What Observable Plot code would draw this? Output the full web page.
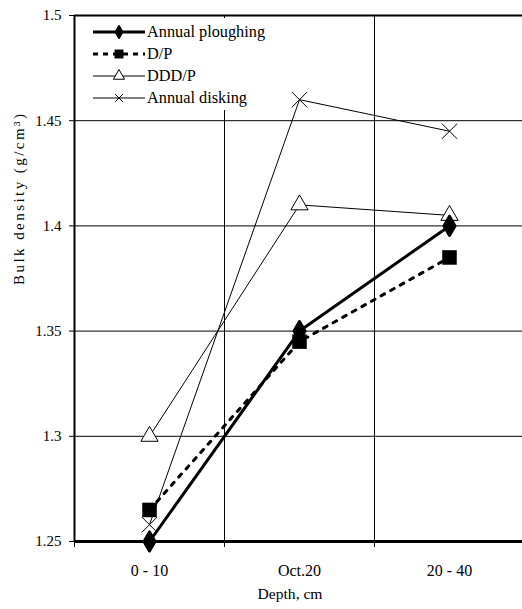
<!DOCTYPE html>
<html>
<head>
<meta charset="utf-8">
<script src="https://cdn.jsdelivr.net/npm/d3@7"></script>
<script src="https://cdn.jsdelivr.net/npm/@observablehq/plot@0.6"></script>
<style>
  html, body { margin: 0; padding: 0; background: #fff; }
  #chart { width: 522px; height: 609px; }
  #chart svg, #chart svg text { font-family: "Liberation Serif", "DejaVu Serif", serif !important; }
</style>
</head>
<body>
<div id="chart"></div>
<script>
// ---- data ----
const depths = ["0 - 10", "Oct.20", "20 - 40"];
const seriesNames = ["Annual ploughing", "D/P", "DDD/P", "Annual disking"];
const ploughing = [1.25, 1.35, 1.40];
const dp = [1.265, 1.345, 1.385];
const ddd = [1.30, 1.41, 1.405];
const disking = [1.258, 1.46, 1.445];
const yTicks = [1.25, 1.3, 1.35, 1.4, 1.45, 1.5];
const yLabel = "Bulk density (g/cm³)";
const xLabel = "Depth, cm";

const toRows = (vals, s) => vals.map((v, i) => ({ series: s, i, v }));
const rowsP = toRows(ploughing, seriesNames[0]);
const rowsDP = toRows(dp, seriesNames[1]);
const rowsDDD = toRows(ddd, seriesNames[2]);
const rowsDisk = toRows(disking, seriesNames[3]);

const font = "Liberation Serif, DejaVu Serif, serif";
const yMin = yTicks[0], yMax = yTicks[yTicks.length - 1];
const boundaries = depths.slice(1).map((d, i) => i + 0.5);

const chart = Plot.plot({
  width: 522,
  height: 609,
  marginTop: 15,
  marginBottom: 68,
  marginLeft: 74,
  marginRight: 0,
  x: { domain: [-0.5, depths.length - 0.5], range: [74, 524], axis: null },
  y: { domain: [yMin, yMax], axis: null },
  style: { fontSize: "15px", background: "white", color: "black", overflow: "visible" },
  marks: [
    // gridlines
    Plot.ruleY(yTicks.slice(1, -1), { stroke: "black", strokeWidth: 1 }),
    Plot.ruleX(boundaries, { y1: yMin, y2: yMax, stroke: "black", strokeWidth: 1 }),
    // frame
    Plot.ruleY([yMax], { stroke: "black", strokeWidth: 2 }),
    Plot.ruleX([-0.5], { y1: yMin, y2: yMax, stroke: "black", strokeWidth: 2 }),
    // y axis
    Plot.axisY({ ticks: yTicks, tickSize: 5, tickPadding: 8, tickFormat: d => String(+d.toFixed(2)), label: null, fontSize: 15 }),
    // x tick marks at band boundaries
    Plot.axisX({ ticks: [-0.5, ...boundaries], tickSize: 6, tickFormat: () => "", label: null }),
    // x category labels
    Plot.axisX({ ticks: depths.map((d, i) => i), tickSize: 0, tickPadding: 23, tickFormat: i => depths[i], label: null, fontSize: 16 }),
    // lines
    Plot.line(rowsDisk, { x: "i", y: "v", stroke: "black", strokeWidth: 1 }),
    Plot.line(rowsDDD, { x: "i", y: "v", stroke: "black", strokeWidth: 1 }),
    Plot.line(rowsDP, { x: "i", y: "v", stroke: "black", strokeWidth: 3, strokeDasharray: "4,7" }),
    Plot.line(rowsP, { x: "i", y: "v", stroke: "black", strokeWidth: 3 }),
    // markers
    Plot.dot(rowsDisk, { x: "i", y: "v", symbol: "times", r: 7, stroke: "black", strokeWidth: 1 }),
    Plot.dot(rowsDDD, { x: "i", y: "v", symbol: "triangle", r: 6.4, fill: "white", stroke: "black", strokeWidth: 1 }),
    Plot.dot(rowsDP, { x: "i", y: "v", symbol: "square", r: 8.2, fill: "black", stroke: "none" }),
    Plot.dot(rowsP, { x: "i", y: "v", symbol: "diamond", r: 5.8, fill: "black", stroke: "black", strokeWidth: 3, strokeLinejoin: "round" }),
    // bottom axis line
    Plot.ruleY([yMin], { stroke: "black", strokeWidth: 3 }),
    // axis titles
    Plot.text([yLabel], { frameAnchor: "left", dx: -55, dy: 6.5, rotate: -90, fontSize: 15, fill: "black" }),
    Plot.text([xLabel], { frameAnchor: "bottom", dy: 57, dx: -8.5, fontSize: 15.6, fill: "black" })
  ]
});
document.getElementById("chart").appendChild(chart);

const svg = d3.select(chart);
// stretch axis titles to the reference's wide letter spacing
svg.selectAll("text").each(function () {
  const t = this.textContent;
  if (t === yLabel) d3.select(this).attr("textLength", 171).attr("lengthAdjust", "spacing");
  if (t === xLabel) d3.select(this).attr("textLength", 65).attr("lengthAdjust", "spacing");
});

// ---- legend inside the plot, top-left ----
const lg = svg.append("g").attr("font-family", font).attr("font-size", 16.3).attr("text-anchor", "start");
lg.append("rect").attr("x", 77).attr("y", 18).attr("width", 194).attr("height", 92).attr("fill", "white");
const legendStyles = [
  { w: 3, dash: null, sym: d3.symbolDiamond, size: 40, fill: "black", stroke: "black", sw: 2 },
  { w: 3, dash: "5,5", sym: d3.symbolSquare, size: 80, fill: "black", stroke: "none", sw: 1 },
  { w: 1, dash: null, sym: d3.symbolTriangle, size: 55, fill: "white", stroke: "black", sw: 1 },
  { w: 1, dash: null, sym: d3.symbolTimes, size: 40, fill: "none", stroke: "black", sw: 1 }
];
const rowY = [32, 54, 76, 98];
seriesNames.forEach((name, k) => {
  const st = legendStyles[k];
  const y = rowY[k];
  const ln = lg.append("line").attr("x1", 93).attr("x2", 145).attr("y1", y).attr("y2", y)
    .attr("stroke", "black").attr("stroke-width", st.w);
  if (st.dash) ln.attr("stroke-dasharray", st.dash);
  lg.append("path").attr("d", d3.symbol(st.sym, st.size)()).attr("transform", `translate(119,${y})`)
    .attr("fill", st.fill).attr("stroke", st.stroke).attr("stroke-width", st.sw).attr("stroke-linejoin", "round");
  lg.append("text").attr("x", 147).attr("y", y).attr("dy", "0.32em").attr("fill", "black").attr("text-anchor", "start").text(name);
});
</script>
</body>
</html>
